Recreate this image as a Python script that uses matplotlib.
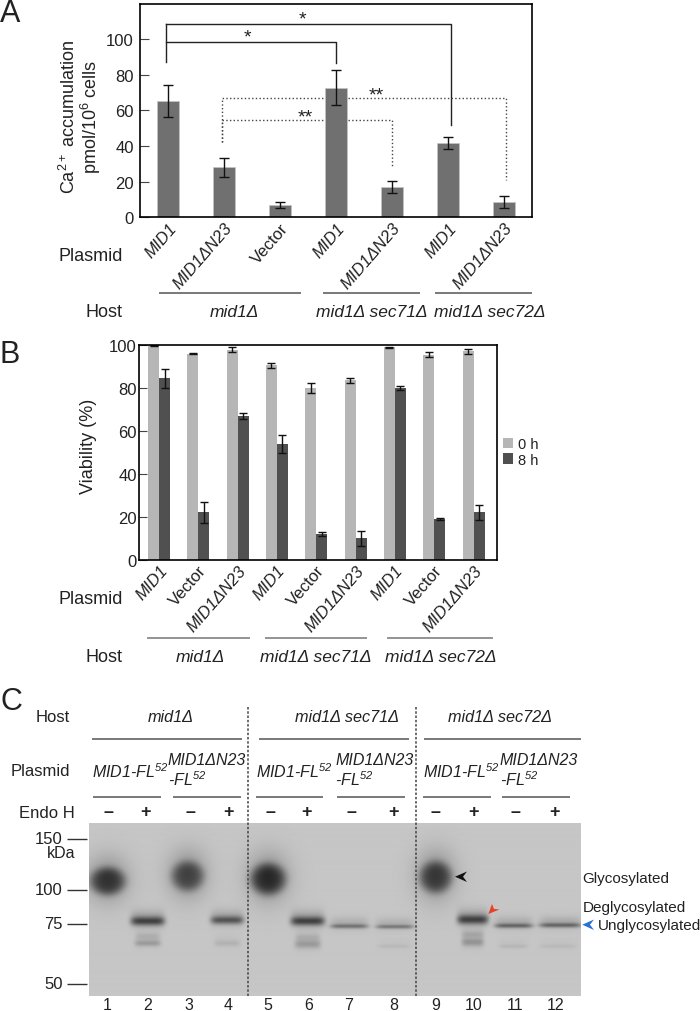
import matplotlib
matplotlib.use("Agg")
import matplotlib.pyplot as plt
import numpy as np
from matplotlib.patches import Polygon

plt.rcParams['font.family'] = ['Liberation Sans', 'DejaVu Sans']
plt.rcParams['mathtext.fontset'] = 'custom'
plt.rcParams['mathtext.rm'] = 'Liberation Sans'
plt.rcParams['mathtext.it'] = 'Liberation Sans:italic'
plt.rcParams['mathtext.bf'] = 'Liberation Sans:bold'
plt.rcParams['mathtext.default'] = 'regular'

W, H = 700, 1012
TXT = '#222222'

# panel A
a_labels = ['MID1', 'MID1ΔN23', 'Vector', 'MID1', 'MID1ΔN23', 'MID1', 'MID1ΔN23']
a_values = [65.5, 28, 7, 72.7, 17, 41.5, 8.7]
a_errors = [9, 5.5, 1.7, 9.9, 3.3, 3.3, 3.5]
a_ticks = [0, 20, 40, 60, 80, 100]

# panel B
b_labels = ['MID1', 'Vector', 'MID1ΔN23'] * 3
b_0h = [99.8, 96, 97.8, 90.5, 80, 83.5, 99, 95.5, 97]
b_0h_err = [0.3, 0.3, 1.2, 1, 2.5, 1.2, 0.3, 1.2, 1.3]
b_8h = [84.5, 22, 67, 54, 12, 10, 80, 19, 22]
b_8h_err = [4.5, 5, 1.5, 4.2, 1, 3.5, 1, 0.4, 3.4]
b_ticks = [0, 20, 40, 60, 80, 100]

# panel C, blot bands in pixels: x, y, half width, half height, darkness
blot_smears = [(107.5, 882, 18, 14, 0.36), (187.5, 877, 16.5, 15, 0.30),
               (268, 880, 18, 16, 0.40), (435.5, 878, 16.5, 16, 0.34)]
blot_deglyco = [(147.5, 922, 17, 4.4, 0.40), (227, 921, 16.5, 4.0, 0.34),
                (307.5, 922, 17, 4.4, 0.40), (472.5, 920.5, 15.5, 4.6, 0.40)]
blot_unglyco = [(349, 927, 19, 2.2, 0.26), (394.5, 927.5, 19, 2.0, 0.24),
                (513.5, 926.5, 19, 2.3, 0.30), (560, 926, 21, 2.3, 0.30)]
blot_faint = [(147.5, 944, 13, 3, 0.13), (147.5, 937, 12, 3, 0.05), (227, 944, 13, 3, 0.06),
              (307.5, 945, 13, 4, 0.13), (307.5, 938, 12, 3, 0.05), (472.5, 943, 11, 4, 0.15),
              (472.5, 935, 11, 3, 0.07), (394, 947, 16, 2, 0.04), (513, 947, 14, 2, 0.05), (558, 947, 18, 2, 0.04)]
mw_labels = ['150', '100', '75', '50']
mw_y = [840, 891, 924.5, 984.5]
lane_x = [107, 148, 189, 227.7, 268, 309, 349, 394, 436, 474, 515, 555.7]
endo_x = [108.3, 145.7, 190, 228.3, 270, 306.7, 351.7, 393.3, 435.7, 473.3, 515.7, 554.3]
endo_signs = ['–', '+'] * 6


def px_axes(l, t, r, b):
    return fig.add_axes([l / W, 1 - b / H, (r - l) / W, (b - t) / H])


def tlabels(ax, labels):
    ax.set_xticks(range(len(labels)))
    ax.set_xticklabels(labels, rotation=49, ha='right', va='top', rotation_mode='anchor', fontsize=12, color=TXT)
    for t, s in zip(ax.get_xticklabels(), labels):
        t.set_style('normal' if s == 'Vector' else 'italic')


fig = plt.figure(figsize=(7, 10.12), dpi=100)

# A
ax = px_axes(140, 4.5, 532.3, 218.3)
x = np.arange(7)
ax.bar(x, a_values, width=0.39, color='#707070', edgecolor='#c4c4c4', linewidth=0.5)
ax.errorbar(x, a_values, yerr=a_errors, fmt='none', ecolor='#111111', elinewidth=1, capsize=3.3, capthick=1)
ax.set_xlim(-0.5, 6.5)
ax.set_ylim(0, 120)
ax.set_yticks(a_ticks)
ax.tick_params(axis='y', labelsize=12, length=6.5, width=0.8, color='#444444', direction='in', labelcolor=TXT, pad=4.5)
ax.tick_params(axis='x', length=0, pad=2)
tlabels(ax, a_labels)
for s in ax.spines.values():
    s.set_linewidth(1.2)

# significance brackets
ax.plot([-0.04, -0.04], [108.4, 87], color='#222222', lw=1)
ax.plot([-0.04, 5.05, 5.05], [108.4, 108.4, 52], color='#222222', lw=1)
ax.plot([-0.04, 3.0, 3.0], [98.5, 98.5, 86.5], color='#222222', lw=1)
ax.plot([0.96, 0.96, 2.77], [42.3, 66.9, 66.9], color='#444444', lw=1, ls=':')
ax.plot([3.22, 6.03, 6.03], [66.9, 66.9, 20.8], color='#444444', lw=1, ls=':')
ax.plot([0.96, 0.96, 2.77], [42.3, 54.7, 54.7], color='#444444', lw=1, ls=':')
ax.plot([3.22, 4.0, 4.0], [54.7, 54.7, 28.3], color='#444444', lw=1, ls=':')

# B
ax2 = px_axes(139, 346, 496.7, 560.7)
x = np.arange(9)
ax2.bar(x - 0.14, b_0h, width=0.28, color='#b6b6b6', label='0 h')
ax2.bar(x + 0.14, b_8h, width=0.28, color='#505050', label='8 h')
ax2.errorbar(x - 0.14, b_0h, yerr=b_0h_err, fmt='none', ecolor='#111111', elinewidth=1, capsize=3, capthick=1)
ax2.errorbar(x + 0.14, b_8h, yerr=b_8h_err, fmt='none', ecolor='#111111', elinewidth=1, capsize=3, capthick=1)
ax2.set_xlim(-0.51, 8.59)
ax2.set_ylim(0, 100)
ax2.set_yticks(b_ticks)
ax2.tick_params(axis='y', labelsize=12, length=6, width=0.8, color='#444444', direction='in', labelcolor=TXT, pad=1.5)
ax2.tick_params(axis='x', length=0, pad=2)
tlabels(ax2, b_labels)
for s in ax2.spines.values():
    s.set_linewidth(1.2)
ax2.legend(loc='upper left', bbox_to_anchor=(1.0, 0.60), frameon=False, fontsize=10.5, handlelength=0.69,
           handleheight=0.69, handletextpad=0.32, labelspacing=0.08, borderpad=0.45, borderaxespad=0, labelcolor=TXT)

# C blot
ax3 = px_axes(89, 824.3, 581, 996.7)
xx, yy = np.meshgrid(np.arange(89, 581, 0.5), np.arange(824.3, 996.7, 0.5))
img = np.full(xx.shape, 0.775)
for cx, cy, rx, ry, d in blot_smears:
    img -= d * np.exp(-(((xx - cx) / rx) ** 2 + ((yy - cy) / ry) ** 2) ** 2.2)
    img -= 0.22 * np.exp(-((xx - cx) / (rx + 3)) ** 2 - ((yy - cy + 2) / (ry + 9)) ** 2)
for cx, cy, rx, ry, d in blot_deglyco + blot_unglyco + blot_faint:
    img -= d * np.exp(-((xx - cx) / rx) ** 6 - ((yy - cy) / ry) ** 2)
    img -= 0.35 * d * np.exp(-((xx - cx) / rx) ** 6 - ((yy - cy + 3) / (ry + 4)) ** 2)
ax3.imshow(np.clip(img, 0, 1), cmap='gray', vmin=0, vmax=1, extent=(89, 581, 996.7, 824.3), aspect='auto')
ax3.axis('off')

# overlay in pixels for labels and lines
ov = fig.add_axes([0, 0, 1, 1], zorder=10)
ov.set_xlim(0, W)
ov.set_ylim(H, 0)
ov.axis('off')


def txt(x, y, s, ha='center', size=12, style='normal', rot=0):
    ov.text(x, y, s, ha=ha, va='center', fontsize=size, style=style, rotation=rot, color=TXT)


def hline(y, x0, x1, c='#555555', lw=1.1):
    ov.plot([x0, x1], [y, y], color=c, lw=lw, solid_capstyle='butt')


txt(0, 14, 'A', ha='left', size=22)
txt(0, 355, 'B', ha='left', size=22)
txt(1, 702, 'C', ha='left', size=22)

# A text
txt(68.6, 117, 'Ca$^{2+}$ accumulation', size=13, rot=90)
txt(91.1, 117, 'pmol/10$^{6}$ cells', size=13, rot=90)
txt(302.3, 20, '*', size=14)
txt(247, 38, '*', size=14)
txt(376.3, 96, '**', size=14)
txt(305.5, 118, '**', size=14)
txt(91, 256, 'Plasmid', size=13)
txt(104.3, 312, 'Host', size=13)
hline(294, 159.3, 301)
hline(294, 322.7, 420)
hline(294, 435, 532.3)
txt(234.8, 312, 'mid1Δ', style='italic', size=12.5)
txt(371.7, 312, 'mid1Δ sec71Δ', style='italic', size=12.5)
txt(489.6, 312, 'mid1Δ sec72Δ', style='italic', size=12.5)

# B text
txt(88.7, 446.7, 'Viability (%)', size=13, rot=90)
txt(91, 600, 'Plasmid', size=13)
txt(104.3, 658, 'Host', size=13)
hline(638.7, 146.5, 249.5, c='#777777')
hline(638.7, 264.5, 367.4, c='#777777')
hline(638.7, 387, 493, c='#777777')
txt(200, 658, 'mid1Δ', style='italic', size=12.5)
txt(316.2, 658, 'mid1Δ sec71Δ', style='italic', size=12.5)
txt(440.6, 658, 'mid1Δ sec72Δ', style='italic', size=12.5)

# C text
txt(53, 717, 'Host')
txt(40, 771.7, 'Plasmid')
txt(46.7, 813.3, 'Endo H')
txt(171, 717, 'mid1Δ', style='italic', size=11.7)
txt(346.7, 717, 'mid1Δ sec71Δ', style='italic', size=11.7)
txt(500, 717, 'mid1Δ sec72Δ', style='italic', size=11.7)
hline(740, 92.3, 242.3)
hline(740, 259, 409)
hline(740, 424, 580.7)
for x0 in [92.3, 256, 422.7]:
    txt(x0, 771.7, 'MID1-FL$^{52}$', ha='left', style='italic', size=11.5)
for x0 in [168, 335, 500]:
    txt(x0, 760.7, 'MID1ΔN23', ha='left', style='italic', size=11.5)
    txt(x0, 780, '-FL$^{52}$', ha='left', style='italic', size=11.5)
for x0, x1 in [(93.3, 161), (173.3, 240.7), (255.7, 323.3), (337.3, 405), (422.7, 490.7), (502, 570)]:
    hline(797.7, x0, x1)
for xp, s in zip(endo_x, endo_signs):
    ov.text(xp, 812.5, s, ha='center', va='center', fontsize=13, fontweight='bold', color=TXT)
for s, yp in zip(mw_labels, mw_y):
    txt(62.7, yp, s, ha='right')
    hline(yp, 66.7, 86.7, c='#333333', lw=1)
txt(60.7, 854, 'kDa', size=11.5)
for i, xp in enumerate(lane_x):
    txt(xp, 1006, str(i + 1), size=11.5)
ov.plot([248, 248], [708, 996.7], color='#444444', lw=1.1, ls=(0, (1.6, 1.2)))
ov.plot([416, 416], [708, 996.7], color='#444444', lw=1.1, ls=(0, (1.6, 1.2)))
txt(582.7, 879.3, 'Glycosylated', ha='left', size=11)
txt(582.7, 908.3, 'Deglycosylated', ha='left', size=11)
txt(598.3, 925.7, 'Unglycosylated', ha='left', size=11)

# arrowheads
ov.add_patch(Polygon([(455, 877.7), (467, 872.5), (463, 877.7), (467, 883)], color='#111111', lw=0))
ov.add_patch(Polygon([(488.3, 915), (492, 905), (494, 910), (499.5, 910.5)], color='#e8402a', lw=0))
ov.add_patch(Polygon([(582.3, 925.7), (594, 920.5), (590, 925.7), (594, 931)], color='#2a70d8', lw=0))

fig.savefig('out.png', dpi=100)
